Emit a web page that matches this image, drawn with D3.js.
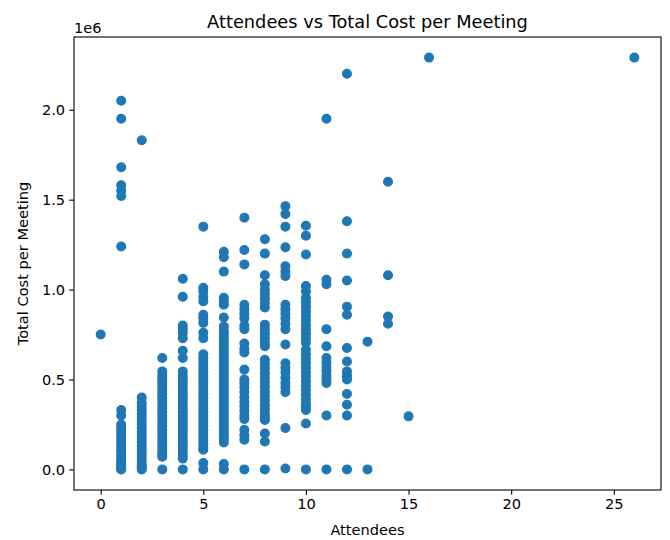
<!DOCTYPE html>
<html>
<head>
<meta charset="utf-8">
<script src="https://cdn.jsdelivr.net/npm/d3@7"></script>
<style>
  body { margin: 0; background: #fff; }
  text { font-family: "DejaVu Sans", sans-serif; fill: #000; }
</style>
</head>
<body>
<script>
// attendee counts that have meetings, and the cost of each meeting (in 1e6)
var attendeeCounts = [0, 1, 2, 3, 4, 5, 6, 7, 8, 9, 10, 11, 12, 13, 14, 15, 16, 26];

var cost0 = [0.75];
var cost1 = [2.05, 1.95, 1.68, 1.58, 1.55, 1.52, 1.24, 0.33, 0.30, 0.25, 0.23, 0.21, 0.19, 0.17, 0.15, 0.13, 0.11, 0.10, 0.08, 0.06, 0.05, 0.04, 0.03, 0.02, 0.01, 0.005, 0.0];
var cost2 = [1.83, 0.40, 0.37, 0.35, 0.33, 0.31, 0.29, 0.27, 0.25, 0.23, 0.21, 0.19, 0.17, 0.15, 0.13, 0.11, 0.09, 0.07, 0.05, 0.03, 0.02, 0.01, 0.0];
var cost3 = [0.62, 0.545, 0.52, 0.50, 0.48, 0.46, 0.44, 0.42, 0.40, 0.38, 0.36, 0.34, 0.32, 0.30, 0.28, 0.26, 0.24, 0.22, 0.20, 0.18, 0.16, 0.14, 0.12, 0.10, 0.08, 0.07, 0.0];
var cost4 = [1.06, 0.96, 0.80, 0.78, 0.76, 0.73, 0.66, 0.62, 0.545, 0.52, 0.50, 0.48, 0.46, 0.44, 0.42, 0.40, 0.38, 0.36, 0.34, 0.32, 0.30, 0.28, 0.26, 0.24, 0.22, 0.20, 0.18, 0.16, 0.14, 0.12, 0.10, 0.08, 0.06, 0.0];
var cost5 = [1.35, 1.01, 0.99, 0.96, 0.935, 0.86, 0.84, 0.815, 0.76, 0.73, 0.64, 0.62, 0.60, 0.58, 0.56, 0.54, 0.52, 0.50, 0.48, 0.46, 0.44, 0.42, 0.40, 0.38, 0.36, 0.34, 0.32, 0.30, 0.28, 0.26, 0.24, 0.22, 0.20, 0.18, 0.16, 0.14, 0.12, 0.11, 0.036, 0.0];
var cost6 = [1.21, 1.18, 1.10, 0.955, 0.935, 0.916, 0.845, 0.795, 0.77, 0.75, 0.73, 0.71, 0.69, 0.67, 0.65, 0.63, 0.61, 0.59, 0.57, 0.55, 0.53, 0.51, 0.49, 0.47, 0.45, 0.43, 0.41, 0.39, 0.37, 0.35, 0.33, 0.31, 0.29, 0.27, 0.25, 0.23, 0.21, 0.19, 0.17, 0.15, 0.03, 0.0];
var cost7 = [1.40, 1.22, 1.14, 0.915, 0.89, 0.865, 0.84, 0.80, 0.78, 0.70, 0.67, 0.65, 0.555, 0.50, 0.48, 0.455, 0.43, 0.40, 0.375, 0.35, 0.325, 0.30, 0.28, 0.22, 0.19, 0.165, 0.0];
var cost8 = [1.28, 1.20, 1.08, 1.03, 1.00, 0.975, 0.95, 0.925, 0.90, 0.805, 0.78, 0.755, 0.73, 0.705, 0.685, 0.61, 0.585, 0.56, 0.535, 0.51, 0.485, 0.46, 0.435, 0.41, 0.385, 0.36, 0.335, 0.31, 0.29, 0.275, 0.20, 0.155, 0.0];
var cost9 = [1.464, 1.42, 1.35, 1.235, 1.13, 1.10, 1.075, 0.915, 0.89, 0.865, 0.84, 0.81, 0.78, 0.695, 0.59, 0.565, 0.54, 0.51, 0.48, 0.455, 0.43, 0.23, 0.005];
var cost10 = [1.355, 1.30, 1.195, 1.02, 0.99, 0.955, 0.93, 0.905, 0.88, 0.855, 0.83, 0.805, 0.78, 0.755, 0.73, 0.705, 0.665, 0.64, 0.615, 0.59, 0.565, 0.54, 0.515, 0.49, 0.465, 0.44, 0.415, 0.39, 0.365, 0.35, 0.33, 0.255, 0.0];
var cost11 = [1.95, 1.055, 1.03, 0.78, 0.685, 0.62, 0.595, 0.57, 0.545, 0.52, 0.50, 0.48, 0.30, 0.0];
var cost12 = [2.20, 1.38, 1.20, 1.05, 0.905, 0.86, 0.675, 0.60, 0.545, 0.52, 0.50, 0.42, 0.36, 0.30, 0.0];
var cost13 = [0.71, 0.0];
var cost14 = [1.60, 1.08, 0.85, 0.81];
var cost15 = [0.295];
var cost16 = [2.29];
var cost26 = [2.29];

var costsByCount = [cost0, cost1, cost2, cost3, cost4, cost5, cost6, cost7, cost8, cost9,
                    cost10, cost11, cost12, cost13, cost14, cost15, cost16, cost26];

var xTicks = [0, 5, 10, 15, 20, 25];
var yTicks = [0, 0.5, 1.0, 1.5, 2.0];

var width = 670;
var height = 540;
// plot area edges (avoid "top", it is window.top)
var plotLeft = 74, plotRight = 661, plotTop = 37, plotBottom = 490;
var blue = "#1f77b4";
var labelSize = "14.6px";

var points = [];
attendeeCounts.forEach(function(n, i) {
  costsByCount[i].forEach(function(c) { points.push({x: n, y: c}); });
});

// matplotlib style 5% margins
var xExt = d3.extent(points, d => d.x);
var yExt = d3.extent(points, d => d.y);
var xPad = (xExt[1] - xExt[0]) * 0.05;
var yPad = (yExt[1] - yExt[0]) * 0.05;

var x = d3.scaleLinear().domain([xExt[0] - xPad, xExt[1] + xPad]).range([plotLeft, plotRight]);
var y = d3.scaleLinear().domain([yExt[0] - yPad, yExt[1] + yPad]).range([plotBottom, plotTop]);

var svg = d3.select("body").append("svg")
  .attr("width", width)
  .attr("height", height);

svg.append("g")
  .selectAll("circle")
  .data(points)
  .enter().append("circle")
    .attr("cx", d => x(d.x))
    .attr("cy", d => y(d.y))
    .attr("r", 4.4)
    .attr("fill", blue)
    .attr("stroke", blue)
    .attr("stroke-width", 1.2);

// axes
var xAxis = svg.append("g")
  .attr("transform", `translate(0, ${plotBottom})`)
  .call(d3.axisBottom(x).tickValues(xTicks).tickFormat(d3.format("d"))
    .tickSize(4.86).tickPadding(4).tickSizeOuter(0));

var yAxis = svg.append("g")
  .attr("transform", `translate(${plotLeft}, 0)`)
  .call(d3.axisLeft(y).tickValues(yTicks).tickFormat(d3.format(".1f"))
    .tickSize(4.86).tickPadding(4).tickSizeOuter(0));

[xAxis, yAxis].forEach(function(a) {
  a.select(".domain").remove();
  a.selectAll("line").attr("stroke", "#000").attr("stroke-width", 1.1);
  a.selectAll("text").attr("font-size", labelSize).attr("font-family", "DejaVu Sans");
});

// frame
svg.append("rect")
  .attr("x", plotLeft).attr("y", plotTop)
  .attr("width", plotRight - plotLeft).attr("height", plotBottom - plotTop)
  .attr("fill", "none")
  .attr("stroke", "#000")
  .attr("stroke-width", 1.1);

svg.append("text")
  .attr("x", (plotLeft + plotRight) / 2).attr("y", 28)
  .attr("text-anchor", "middle")
  .attr("font-size", "17.8px")
  .text("Attendees vs Total Cost per Meeting");

svg.append("text")
  .attr("x", plotLeft).attr("y", 33)
  .attr("font-size", labelSize)
  .text("1e6");

svg.append("text")
  .attr("x", (plotLeft + plotRight) / 2).attr("y", 535)
  .attr("text-anchor", "middle")
  .attr("font-size", labelSize)
  .text("Attendees");

svg.append("text")
  .attr("transform", `translate(28, ${(plotTop + plotBottom) / 2}) rotate(-90)`)
  .attr("text-anchor", "middle")
  .attr("font-size", labelSize)
  .text("Total Cost per Meeting");
</script>
</body>
</html>
